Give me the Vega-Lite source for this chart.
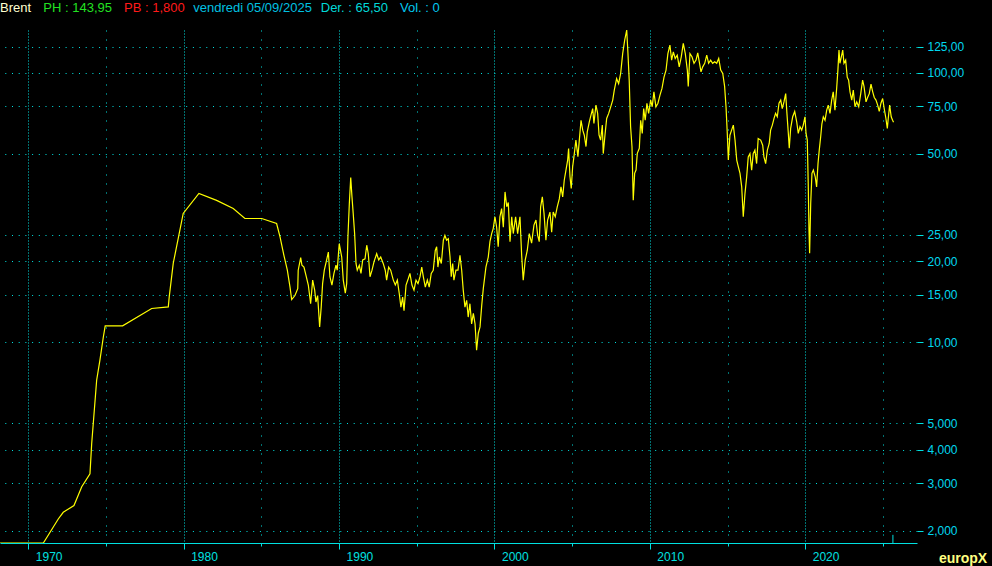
{
  "$schema": "https://vega.github.io/schema/vega-lite/v6.json",
  "width": 917,
  "height": 513,
  "autosize": {"type": "none"},
  "padding": {"left": 0, "top": 30, "right": 75, "bottom": 23},
  "background": "#000000",
  "config": {"view": {"stroke": null}, "font": "Liberation Sans"},
  "resolve": {"axis": {"x": "independent", "y": "independent"}},
  "datasets": {
    "brent": [
      {"year":1968.18,"price":1.8},{"year":1970.97,"price":1.8},{"year":1971.93,"price":2.21},{"year":1972.25,"price":2.34},{"year":1972.94,"price":2.48},{"year":1973.44,"price":2.91},{"year":1973.97,"price":3.25},{"year":1974.08,"price":4.2},{"year":1974.4,"price":7.23},{"year":1974.61,"price":8.58},{"year":1974.83,"price":10.46},{"year":1974.95,"price":11.5},{"year":1976.07,"price":11.5},{"year":1977.94,"price":13.34},{"year":1979.01,"price":13.52},{"year":1979.07,"price":14.73},{"year":1979.33,"price":19.64},{"year":1979.97,"price":30.03},{"year":1980.98,"price":35.63},{"year":1982.12,"price":33.6},{"year":1983.19,"price":31.34},{"year":1983.94,"price":28.77},{"year":1985.02,"price":28.77},{"year":1985.98,"price":27.57},
      {"year":1986.2,"price":24.6},{"year":1986.45,"price":21.0},{"year":1986.67,"price":18.5},{"year":1986.84,"price":16.05},{"year":1986.95,"price":14.4},{"year":1987.16,"price":14.9},{"year":1987.34,"price":15.8},{"year":1987.37,"price":18.5},{"year":1987.53,"price":20.6},{"year":1987.61,"price":19.3},{"year":1987.74,"price":19.0},{"year":1987.87,"price":17.7},{"year":1988.02,"price":16.3},{"year":1988.17,"price":13.9},{"year":1988.3,"price":17.0},{"year":1988.43,"price":15.6},{"year":1988.51,"price":14.1},{"year":1988.62,"price":14.9},{"year":1988.75,"price":11.4},{"year":1988.85,"price":13.5},{"year":1988.94,"price":16.5},{"year":1989.05,"price":18.5},{"year":1989.2,"price":20.2},{"year":1989.31,"price":21.6},{"year":1989.41,"price":17.5},{"year":1989.54,"price":16.3},{"year":1989.67,"price":18.0},{"year":1989.8,"price":19.3},{"year":1989.88,"price":18.5},
      {"year":1990.01,"price":23.2},{"year":1990.17,"price":20.7},{"year":1990.27,"price":17.0},{"year":1990.4,"price":15.2},{"year":1990.49,"price":16.5},{"year":1990.57,"price":24.6},{"year":1990.66,"price":32.7},{"year":1990.75,"price":40.8},{"year":1990.83,"price":34.6},{"year":1990.91,"price":30.0},{"year":1991.0,"price":25.3},{"year":1991.09,"price":19.6},{"year":1991.17,"price":18.5},{"year":1991.3,"price":19.3},{"year":1991.41,"price":18.0},{"year":1991.52,"price":20.2},{"year":1991.67,"price":20.4},{"year":1991.78,"price":22.9},{"year":1991.88,"price":21.3},{"year":1991.99,"price":17.5},{"year":1992.12,"price":18.5},{"year":1992.25,"price":19.9},{"year":1992.42,"price":21.3},{"year":1992.55,"price":20.2},{"year":1992.68,"price":20.7},{"year":1992.84,"price":19.6},{"year":1992.97,"price":18.5},{"year":1993.06,"price":17.0},{"year":1993.19,"price":19.0},{"year":1993.32,"price":18.5},{"year":1993.49,"price":17.0},{"year":1993.62,"price":16.3},{"year":1993.75,"price":17.0},{"year":1993.87,"price":15.2},{"year":1993.98,"price":13.5},{"year":1994.09,"price":14.7},{"year":1994.18,"price":13.1},{"year":1994.31,"price":16.3},{"year":1994.45,"price":17.2},{"year":1994.56,"price":18.0},{"year":1994.69,"price":16.3},{"year":1994.82,"price":15.6},{"year":1994.95,"price":17.0},{"year":1995.08,"price":16.5},{"year":1995.21,"price":17.5},{"year":1995.32,"price":19.0},{"year":1995.42,"price":17.5},{"year":1995.55,"price":16.0},{"year":1995.68,"price":17.0},{"year":1995.8,"price":16.0},{"year":1995.93,"price":18.0},{"year":1996.06,"price":18.5},{"year":1996.19,"price":21.9},{"year":1996.28,"price":22.6},{"year":1996.36,"price":19.0},{"year":1996.45,"price":20.7},{"year":1996.58,"price":19.6},{"year":1996.71,"price":23.9},{"year":1996.81,"price":24.9},{"year":1996.92,"price":23.9},{"year":1997.03,"price":24.2},{"year":1997.14,"price":20.7},{"year":1997.22,"price":17.5},{"year":1997.31,"price":19.6},{"year":1997.39,"price":17.0},{"year":1997.52,"price":18.5},{"year":1997.65,"price":18.5},{"year":1997.78,"price":21.0},{"year":1997.89,"price":18.5},{"year":1997.99,"price":15.6},{"year":1998.1,"price":13.5},{"year":1998.21,"price":14.3},{"year":1998.31,"price":12.4},{"year":1998.42,"price":13.9},{"year":1998.53,"price":11.7},{"year":1998.64,"price":12.8},{"year":1998.75,"price":11.7},{"year":1998.85,"price":9.34},{"year":1998.96,"price":10.8},{"year":1999.07,"price":11.4},{"year":1999.18,"price":13.7},{"year":1999.28,"price":15.8},{"year":1999.45,"price":19.0},{"year":1999.6,"price":20.7},{"year":1999.71,"price":23.6},{"year":1999.82,"price":25.3},{"year":1999.92,"price":26.4},
      {"year":2000.03,"price":29.2},{"year":2000.14,"price":26.7},{"year":2000.24,"price":22.6},{"year":2000.35,"price":29.2},{"year":2000.46,"price":31.3},{"year":2000.57,"price":26.7},{"year":2000.68,"price":36.1},{"year":2000.79,"price":31.8},{"year":2000.89,"price":33.0},{"year":2001.0,"price":23.6},{"year":2001.11,"price":29.2},{"year":2001.21,"price":25.3},{"year":2001.36,"price":29.2},{"year":2001.49,"price":25.3},{"year":2001.64,"price":29.2},{"year":2001.75,"price":21.0},{"year":2001.85,"price":17.0},{"year":2001.98,"price":20.2},{"year":2002.11,"price":21.9},{"year":2002.24,"price":25.3},{"year":2002.39,"price":23.3},{"year":2002.54,"price":27.2},{"year":2002.67,"price":28.4},{"year":2002.78,"price":24.9},{"year":2002.88,"price":23.6},{"year":2002.97,"price":31.8},{"year":2003.08,"price":34.6},{"year":2003.19,"price":30.0},{"year":2003.31,"price":23.9},{"year":2003.42,"price":28.4},{"year":2003.57,"price":30.4},{"year":2003.68,"price":25.6},{"year":2003.78,"price":30.4},{"year":2003.91,"price":29.2},{"year":2004.04,"price":31.8},{"year":2004.17,"price":34.0},{"year":2004.28,"price":37.7},{"year":2004.39,"price":34.6},{"year":2004.49,"price":39.9},{"year":2004.6,"price":43.5},{"year":2004.71,"price":47.4},{"year":2004.77,"price":52.3},{"year":2004.86,"price":41.1},{"year":2004.94,"price":37.2},{"year":2005.03,"price":44.7},{"year":2005.14,"price":50.2},{"year":2005.24,"price":56.2},{"year":2005.37,"price":48.8},{"year":2005.46,"price":56.2},{"year":2005.57,"price":66.6},{"year":2005.68,"price":61.2},{"year":2005.78,"price":58.6},{"year":2005.89,"price":53.2},{"year":2005.97,"price":60.3},{"year":2006.1,"price":65.6},{"year":2006.21,"price":69.6},{"year":2006.32,"price":73.6},{"year":2006.4,"price":64.8},{"year":2006.53,"price":75.8},{"year":2006.64,"price":70.6},{"year":2006.73,"price":58.6},{"year":2006.83,"price":56.2},{"year":2006.94,"price":63.9},{"year":2007.0,"price":50.1},{"year":2007.11,"price":58.6},{"year":2007.22,"price":67.6},{"year":2007.35,"price":70.6},{"year":2007.48,"price":74.7},{"year":2007.61,"price":79.1},{"year":2007.71,"price":86.1},{"year":2007.86,"price":95.0},{"year":2007.99,"price":91.0},{"year":2008.12,"price":99.3},{"year":2008.25,"price":117.7},{"year":2008.38,"price":132.0},{"year":2008.51,"price":143.8},{"year":2008.59,"price":117.7},{"year":2008.67,"price":93.8},{"year":2008.76,"price":63.0},{"year":2008.85,"price":53.1},{"year":2008.93,"price":33.6},{"year":2009.02,"price":42.3},{"year":2009.11,"price":43.5},{"year":2009.19,"price":50.2},{"year":2009.32,"price":52.4},{"year":2009.41,"price":66.6},{"year":2009.51,"price":59.5},{"year":2009.6,"price":73.6},{"year":2009.7,"price":66.6},{"year":2009.81,"price":77.0},{"year":2009.92,"price":70.6},
      {"year":2010.05,"price":79.1},{"year":2010.15,"price":74.7},{"year":2010.26,"price":84.9},{"year":2010.39,"price":74.7},{"year":2010.52,"price":77.0},{"year":2010.65,"price":82.5},{"year":2010.78,"price":87.4},{"year":2010.91,"price":96.2},{"year":2011.04,"price":102.2},{"year":2011.16,"price":117.7},{"year":2011.29,"price":126.5},{"year":2011.4,"price":111.3},{"year":2011.51,"price":119.4},{"year":2011.63,"price":112.9},{"year":2011.76,"price":116.1},{"year":2011.89,"price":105.1},{"year":2012.02,"price":114.5},{"year":2012.15,"price":128.4},{"year":2012.28,"price":117.7},{"year":2012.41,"price":102.2},{"year":2012.47,"price":88.9},{"year":2012.58,"price":117.7},{"year":2012.71,"price":114.5},{"year":2012.84,"price":108.3},{"year":2012.97,"price":111.3},{"year":2013.08,"price":118.4},{"year":2013.18,"price":109.7},{"year":2013.29,"price":100.7},{"year":2013.4,"price":105.1},{"year":2013.53,"price":108.3},{"year":2013.66,"price":116.1},{"year":2013.78,"price":108.3},{"year":2013.91,"price":111.3},{"year":2014.04,"price":108.3},{"year":2014.17,"price":109.7},{"year":2014.3,"price":108.3},{"year":2014.43,"price":112.9},{"year":2014.56,"price":102.2},{"year":2014.69,"price":99.3},{"year":2014.81,"price":88.9},{"year":2014.9,"price":74.7},{"year":2014.98,"price":59.7},{"year":2015.05,"price":47.4},{"year":2015.15,"price":58.6},{"year":2015.26,"price":61.2},{"year":2015.37,"price":63.9},{"year":2015.48,"price":56.2},{"year":2015.59,"price":47.4},{"year":2015.69,"price":44.8},{"year":2015.8,"price":42.3},{"year":2015.91,"price":37.7},{"year":2016.01,"price":29.2},{"year":2016.12,"price":35.6},{"year":2016.23,"price":41.1},{"year":2016.33,"price":48.7},{"year":2016.44,"price":50.1},{"year":2016.55,"price":43.5},{"year":2016.65,"price":50.1},{"year":2016.76,"price":51.6},{"year":2016.87,"price":46.0},{"year":2016.97,"price":57.0},{"year":2017.13,"price":56.2},{"year":2017.26,"price":53.8},{"year":2017.34,"price":48.7},{"year":2017.45,"price":46.0},{"year":2017.56,"price":51.6},{"year":2017.68,"price":54.6},{"year":2017.77,"price":61.2},{"year":2017.88,"price":63.9},{"year":2017.99,"price":67.7},{"year":2018.09,"price":70.6},{"year":2018.2,"price":68.6},{"year":2018.31,"price":77.0},{"year":2018.42,"price":79.1},{"year":2018.52,"price":73.6},{"year":2018.63,"price":77.9},{"year":2018.74,"price":83.6},{"year":2018.82,"price":70.6},{"year":2018.91,"price":59.5},{"year":2018.97,"price":52.4},{"year":2019.06,"price":62.1},{"year":2019.19,"price":68.6},{"year":2019.32,"price":71.8},{"year":2019.45,"price":65.6},{"year":2019.55,"price":59.5},{"year":2019.66,"price":63.0},{"year":2019.77,"price":61.2},{"year":2019.87,"price":63.9},{"year":2019.98,"price":68.6},
      {"year":2020.05,"price":59.5},{"year":2020.13,"price":56.2},{"year":2020.19,"price":38.8},{"year":2020.24,"price":26.0},{"year":2020.28,"price":21.4},{"year":2020.35,"price":32.7},{"year":2020.43,"price":42.3},{"year":2020.52,"price":43.5},{"year":2020.64,"price":41.1},{"year":2020.73,"price":37.7},{"year":2020.82,"price":46.0},{"year":2020.9,"price":51.6},{"year":2020.99,"price":57.7},{"year":2021.07,"price":64.6},{"year":2021.16,"price":68.6},{"year":2021.27,"price":66.6},{"year":2021.38,"price":72.6},{"year":2021.48,"price":75.8},{"year":2021.59,"price":70.6},{"year":2021.7,"price":79.1},{"year":2021.8,"price":84.9},{"year":2021.91,"price":72.6},{"year":2022.02,"price":87.4},{"year":2022.1,"price":102.2},{"year":2022.17,"price":121.2},{"year":2022.23,"price":108.3},{"year":2022.32,"price":114.5},{"year":2022.41,"price":121.2},{"year":2022.49,"price":108.3},{"year":2022.6,"price":111.3},{"year":2022.7,"price":96.2},{"year":2022.79,"price":93.8},{"year":2022.88,"price":84.9},{"year":2022.99,"price":79.1},{"year":2023.09,"price":86.1},{"year":2023.2,"price":74.7},{"year":2023.31,"price":77.9},{"year":2023.44,"price":74.7},{"year":2023.57,"price":83.6},{"year":2023.69,"price":93.8},{"year":2023.78,"price":88.9},{"year":2023.91,"price":77.9},{"year":2024.01,"price":80.9},{"year":2024.12,"price":83.6},{"year":2024.23,"price":90.7},{"year":2024.34,"price":84.9},{"year":2024.44,"price":80.9},{"year":2024.55,"price":79.1},{"year":2024.66,"price":75.8},{"year":2024.76,"price":71.8},{"year":2024.87,"price":77.0},{"year":2024.98,"price":80.2},{"year":2025.08,"price":73.6},{"year":2025.19,"price":67.6},{"year":2025.28,"price":62.1},{"year":2025.34,"price":67.6},{"year":2025.43,"price":75.8},{"year":2025.53,"price":68.6},{"year":2025.62,"price":66.6},{"year":2025.68,"price":65.5}
    ]
  },
  "layer": [
    {
      "data": {"name": "brent"},
      "mark": {"type": "line", "color": "#FFFF00", "strokeWidth": 1.2, "clip": true},
      "encoding": {
        "x": {
          "field": "year", "type": "quantitative",
          "scale": {"domain": [1968.18, 2027.19], "nice": false, "zero": false},
          "axis": {
            "title": null,
            "values": [1970, 1975, 1980, 1985, 1990, 1995, 2000, 2005, 2010, 2015, 2020, 2025],
            "grid": true,
            "gridColor": "#00E0E0",
            "gridOpacity": 1,
            "gridDash": {"condition": {"test": "datum.value % 10 === 0", "value": [1, 2]}, "value": [1, 8]},
            "domainColor": "#00E0E0",
            "tickColor": "#00E0E0",
            "tickSize": {"condition": {"test": "datum.value % 10 === 0", "value": 6}, "value": 3},
            "labelExpr": "datum.value % 10 === 0 ? format(datum.value, 'd') : ''",
            "labelColor": "#00E0E0",
            "labelFont": "Liberation Sans",
            "labelFontSize": 12,
            "labelAlign": "left",
            "labelBaseline": "top",
            "labelOffset": 7,
            "labelPadding": 2,
            "labelFlush": false,
            "labelOverlap": false
          }
        },
        "y": {
          "field": "price", "type": "quantitative",
          "scale": {"type": "log", "domain": [1.8, 143.95], "nice": false},
          "axis": {
            "orient": "right",
            "title": null,
            "values": [2, 3, 4, 5, 10, 15, 20, 25, 50, 75, 100, 125],
            "domain": false,
            "grid": true,
            "gridColor": "#00E0E0",
            "gridOpacity": 1,
            "gridDash": [1, 5.7],
            "tickColor": "#00E0E0",
            "tickSize": 6,
            "labelPadding": 4,
            "labelExpr": "datum.value >= 10 ? replace(format(datum.value, '.2f'), '.', ',') : replace(format(datum.value, '.3f'), '.', ',')",
            "labelColor": "#00D8F0",
            "labelFont": "Liberation Sans",
            "labelFontSize": 12,
            "labelBaseline": "middle",
            "labelFlush": false,
            "labelOverlap": false
          }
        }
      }
    },
    {
      "data": {"values": [{}]},
      "mark": {"type": "rule", "color": "#00E0E0", "strokeWidth": 1},
      "encoding": {
        "x": {"datum": 2025.64, "type": "quantitative", "axis": null},
        "y": {"datum": 1.8, "type": "quantitative", "axis": null},
        "y2": {"datum": 1.93}
      }
    },
    {
      "data": {"values": [{}]},
      "mark": {"type": "text", "text": "Brent", "color": "#FFFFD0", "font": "Liberation Sans", "fontSize": 13, "align": "left", "baseline": "alphabetic"},
      "encoding": {"x": {"datum": 1968.18, "type": "quantitative", "axis": null}, "y": {"datum": 167.2, "type": "quantitative", "axis": null}}
    },
    {
      "data": {"values": [{}]},
      "mark": {"type": "text", "text": "PH : 143,95", "color": "#22E022", "font": "Liberation Sans", "fontSize": 13, "align": "left", "baseline": "alphabetic"},
      "encoding": {"x": {"datum": 1970.97, "type": "quantitative", "axis": null}, "y": {"datum": 167.2, "type": "quantitative", "axis": null}}
    },
    {
      "data": {"values": [{}]},
      "mark": {"type": "text", "text": "PB : 1,800", "color": "#FF1A1A", "font": "Liberation Sans", "fontSize": 13, "align": "left", "baseline": "alphabetic"},
      "encoding": {"x": {"datum": 1976.16, "type": "quantitative", "axis": null}, "y": {"datum": 167.2, "type": "quantitative", "axis": null}}
    },
    {
      "data": {"values": [{}]},
      "mark": {"type": "text", "text": "vendredi 05/09/2025", "color": "#00C0E0", "font": "Liberation Sans", "fontSize": 13, "align": "left", "baseline": "alphabetic"},
      "encoding": {"x": {"datum": 1980.62, "type": "quantitative", "axis": null}, "y": {"datum": 167.2, "type": "quantitative", "axis": null}}
    },
    {
      "data": {"values": [{}]},
      "mark": {"type": "text", "text": "Der. : 65,50", "color": "#00D8D8", "font": "Liberation Sans", "fontSize": 13, "align": "left", "baseline": "alphabetic"},
      "encoding": {"x": {"datum": 1988.82, "type": "quantitative", "axis": null}, "y": {"datum": 167.2, "type": "quantitative", "axis": null}}
    },
    {
      "data": {"values": [{}]},
      "mark": {"type": "text", "text": "Vol. : 0", "color": "#00C8F0", "font": "Liberation Sans", "fontSize": 13, "align": "left", "baseline": "alphabetic"},
      "encoding": {"x": {"datum": 1993.92, "type": "quantitative", "axis": null}, "y": {"datum": 167.2, "type": "quantitative", "axis": null}}
    },
    {
      "data": {"values": [{}]},
      "mark": {"type": "text", "text": "europX", "color": "#FFFF80", "font": "Liberation Sans", "fontSize": 14, "fontWeight": "bold", "align": "left", "baseline": "alphabetic"},
      "encoding": {"x": {"datum": 2028.6, "type": "quantitative", "axis": null}, "y": {"datum": 1.518, "type": "quantitative", "axis": null}}
    }
  ]
}
